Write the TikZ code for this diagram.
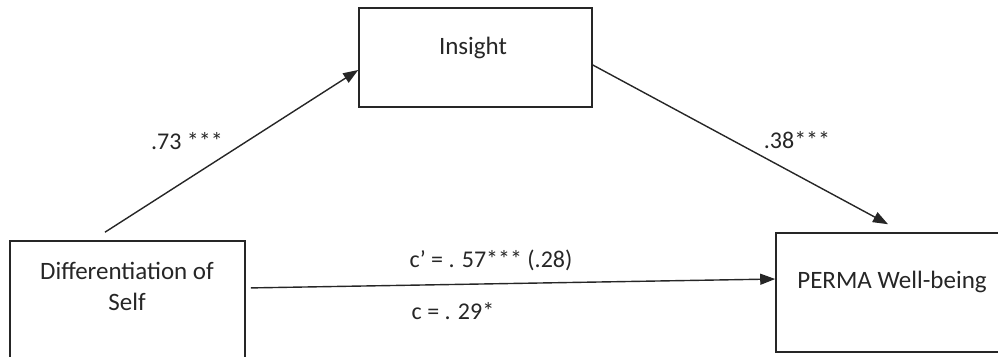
\documentclass[tikz,border=0pt]{standalone}
\usepackage{fontspec}
\setmainfont{Carlito}
\usetikzlibrary{arrows.meta}
\begin{document}
\begin{tikzpicture}[x=1pt,y=-1pt,
  box/.style={draw=black!85,line width=1.6pt,rectangle,inner sep=0pt},
  txt/.style={font=\fontsize{25}{31}\selectfont,text=black!85,inner sep=0pt,align=center},
  lbl/.style={font=\fontsize{24}{29}\selectfont,text=black!85,inner sep=0pt},
  arr/.style={draw=black!85,line width=1.4pt,-{Triangle[length=15pt,width=11pt]}}]
\useasboundingbox (0,0) rectangle (998,356);
\clip (0,0) rectangle (998,356);
% boxes
\node[box,minimum width=233pt,minimum height=99pt] (ins) at (475.5,57.5) {};
\node[box,minimum width=235pt,minimum height=150pt] (dosbox) at (127.5,316) {};
\node[box,minimum width=240pt,minimum height=119pt] (perbox) at (896,292.5) {};
% box texts
\node[txt] (instxt) at (473,48) {Insight};
\node[txt] (dos) at (127,286) {Differentiation of\\Self};
\node[txt] (per) at (892,282) {PERMA Well-being};
% connectors
\draw[arr,shorten <=14.8pt] ([xshift=-35pt]dosbox.north) -- ([yshift=-12.5pt]ins.west);
\draw[arr,shorten >=16.8pt] ([yshift=-7.5pt]ins.east) -- ([xshift=6.8pt]perbox.north);
\draw[arr,shorten <=5pt] (dosbox.east |- 0,288) -- (perbox.west |- 0,279);
% labels
\node[lbl] (a) at (187,141) {.73 ***};
\node[lbl] (b) at (797,140) {.38***};
\node[lbl] (cp) at (491,260) {c’ = . 57*** (.28)};
\node[lbl] (c) at (453,311) {c = . 29*};
\end{tikzpicture}
\end{document}
